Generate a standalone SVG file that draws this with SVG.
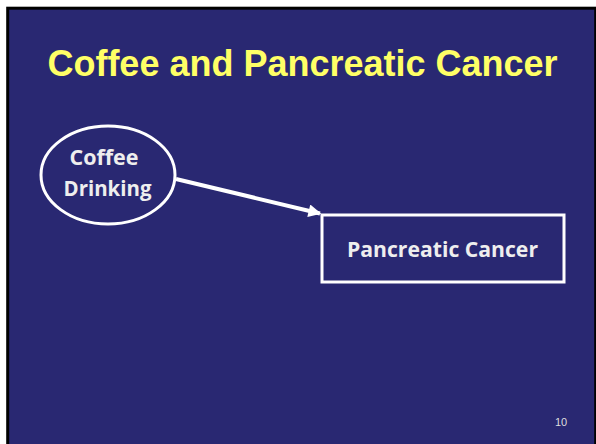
<svg xmlns="http://www.w3.org/2000/svg" width="596" height="444" viewBox="0 0 596 444">
<style>
.node{fill:none;stroke:#FFFFFF;stroke-width:3}
.lbl{font-family:"Open Sans","Liberation Sans",sans-serif;font-weight:bold;fill:#EEEEEE;text-anchor:middle}
.title{font-family:"Liberation Sans",Arial,sans-serif;font-weight:bold;fill:#FFFF66;text-anchor:middle}
</style>
<defs>
<marker id="ah" viewBox="0 0 10 10" refX="9" refY="5" markerWidth="4" markerHeight="3.2" orient="auto" markerUnits="strokeWidth">
<path d="M0,0 L10,5 L0,10 z" fill="#FFFFFF"/>
</marker>
</defs>
<rect x="0" y="0" width="596" height="444" fill="#FFFFFF"/>
<rect x="7.7" y="8.2" width="588" height="440" fill="#292872" stroke="#000000" stroke-width="3"/>
<text class="title" x="302.5" y="76" font-size="36">Coffee and Pancreatic Cancer</text>
<g id="connectors">
<line x1="176" y1="179" x2="320" y2="213.5" stroke="#FFFFFF" stroke-width="4" marker-end="url(#ah)"/>
</g>
<g id="coffee">
<ellipse class="node" cx="108" cy="175" rx="67" ry="49"/>
<text class="lbl" x="104" y="165" font-size="21" textLength="69" lengthAdjust="spacingAndGlyphs">Coffee</text>
<text class="lbl" x="107.5" y="196" font-size="21" textLength="88" lengthAdjust="spacingAndGlyphs">Drinking</text>
</g>
<g id="cancer">
<rect class="node" x="322" y="215" width="242" height="67"/>
<text class="lbl" x="442.5" y="257.3" font-size="22" textLength="191" lengthAdjust="spacingAndGlyphs">Pancreatic Cancer</text>
</g>
<text x="561" y="425.5" font-family="Liberation Sans,Arial,sans-serif" font-size="11" fill="#DDDDDD" text-anchor="middle">10</text>
</svg>
